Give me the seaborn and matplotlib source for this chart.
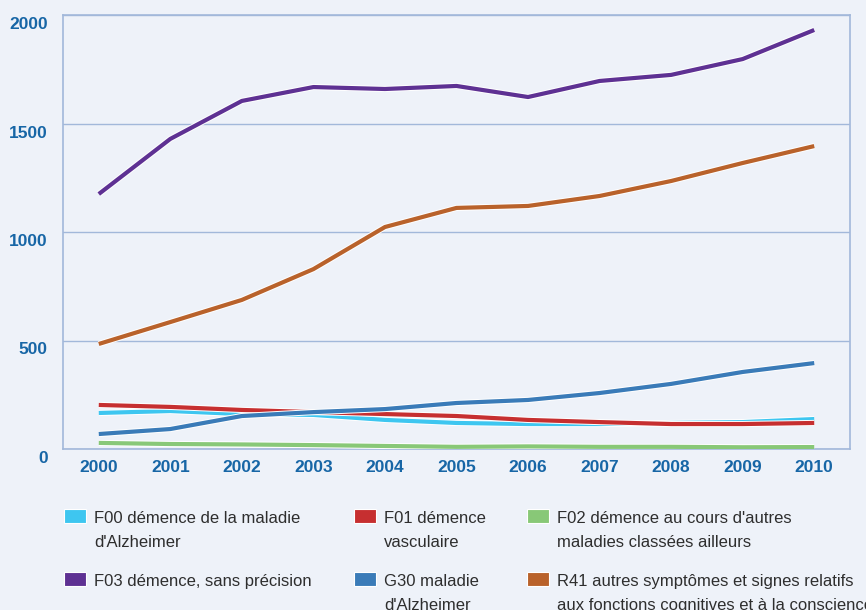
import matplotlib
matplotlib.use("Agg")
import matplotlib.pyplot as plt
import matplotlib.transforms as mtransforms
from matplotlib.patches import Rectangle
import matplotlib.patheffects as pe
import seaborn as sns
import pandas as pd

years = [2000, 2001, 2002, 2003, 2004, 2005, 2006, 2007, 2008, 2009, 2010]
f00 = [166, 175, 161, 157, 134, 120, 115, 115, 120, 124, 138]
f01 = [203, 194, 180, 170, 161, 152, 134, 124, 115, 115, 120]
f02 = [28, 23, 21, 18, 14, 10, 12, 10, 10, 8, 9]
f03 = [1175, 1429, 1604, 1668, 1659, 1673, 1622, 1696, 1724, 1797, 1931]
g30 = [69, 92, 152, 170, 184, 212, 226, 258, 300, 355, 396]
r41 = [484, 585, 687, 829, 1023, 1111, 1120, 1166, 1235, 1318, 1396]

series_names = [
    "F00 démence de la maladie\nd'Alzheimer",
    "F01 démence\nvasculaire",
    "F02 démence au cours d'autres\nmaladies classées ailleurs",
    "F03 démence, sans précision",
    "G30 maladie\nd'Alzheimer",
    "R41 autres symptômes et signes relatifs\naux fonctions cognitives et à la conscience",
]
series_values = [f00, f01, f02, f03, g30, r41]
colors = ["#3ec6f0", "#c62f30", "#88c877", "#5e3193", "#3a7bb8", "#b9622b"]
y_ticks = [0, 500, 1000, 1500, 2000]

rows = []
for name, vals in zip(series_names, series_values):
    for yr, v in zip(years, vals):
        rows.append({"year": yr, "value": v, "series": name})
df = pd.DataFrame(rows)

bg = "#eef2f9"
gridc = "#a2b8da"
tickc = "#1766a6"

sns.set_style("white")
plt.rcParams["font.family"] = ["Liberation Sans", "DejaVu Sans"]

fig = plt.figure(figsize=(8.66, 6.10), dpi=100, facecolor=bg)
ax = fig.add_axes([63 / 866, 1 - 449 / 610, (850 - 63) / 866, (449 - 15) / 610])
ax.set_facecolor(bg)

sns.lineplot(data=df, x="year", y="value", hue="series", hue_order=series_names,
             palette=dict(zip(series_names, colors)), linewidth=3.0, ax=ax,
             legend=False, zorder=3)
for line in ax.get_lines():
    line.set_path_effects([pe.Stroke(linewidth=4.4, foreground="white"), pe.Normal()])
    line.set_solid_capstyle("butt")

ax.set_xlim(years[0] - 0.5, years[-1] + 0.5)
ax.set_ylim(0, 2000)
ax.set_xlabel("")
ax.set_ylabel("")

ax.set_yticks(y_ticks)
ax.set_yticklabels([str(t) for t in y_ticks])
ax.yaxis.grid(True, color=gridc, linewidth=1.0)
ax.xaxis.grid(False)
ax.tick_params(axis="y", length=0, pad=11, labelsize=12.5, labelcolor=tickc)
offset = mtransforms.ScaledTranslation(0, -8 / 100, fig.dpi_scale_trans)
for lab in ax.get_yticklabels():
    lab.set_fontweight("bold")
    lab.set_transform(lab.get_transform() + offset)

ax.set_xticks(years)
ax.set_xticklabels([str(y) for y in years])
ax.set_xticks([y + 0.5 for y in years[:-1]], minor=True)
ax.tick_params(axis="x", which="major", length=0, pad=8, labelsize=12.5, labelcolor=tickc)
ax.tick_params(axis="x", which="minor", length=12, width=1, color=gridc, direction="out")
for lab in ax.get_xticklabels():
    lab.set_fontweight("bold")

for s in ["left", "right", "bottom", "top"]:
    ax.spines[s].set_visible(True)
    ax.spines[s].set_color(gridc)
    ax.spines[s].set_linewidth(1.2)

# legend (3 columns x 2 rows), each text line placed on its baseline
col_x = [64, 354, 527]
row_base = [523, 586]
line_step = 24
for i, (name, c) in enumerate(zip(series_names, colors)):
    cx = col_x[i % 3]
    by = row_base[i // 3]
    fig.patches.append(Rectangle((cx / 866, 1 - by / 610), 22 / 866, 14 / 610,
                                 transform=fig.transFigure, facecolor=c,
                                 edgecolor="white", linewidth=0.8))
    for k, part in enumerate(name.split("\n")):
        fig.text((cx + 30) / 866, 1 - (by + k * line_step) / 610, part,
                 ha="left", va="baseline", fontsize=12, color="#2e2e2e")

fig.savefig("out.png", dpi=100, facecolor=bg)
